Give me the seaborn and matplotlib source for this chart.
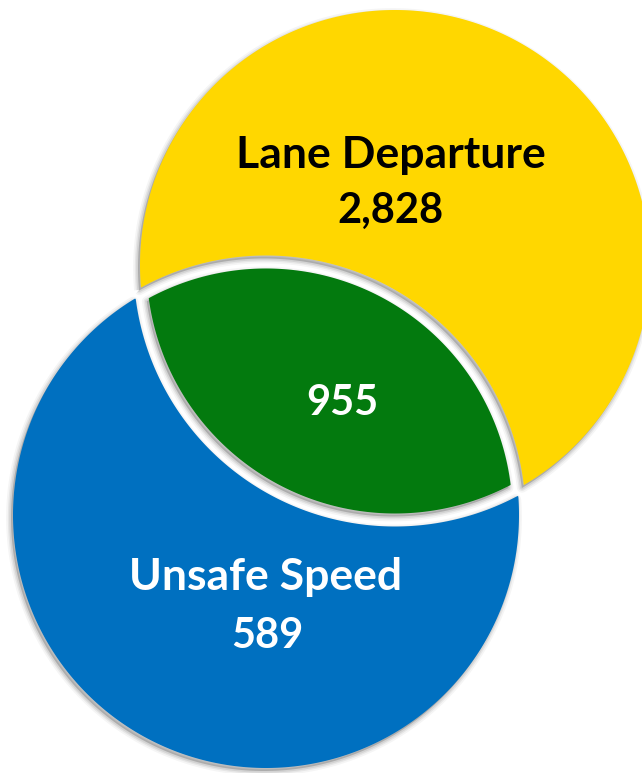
import numpy as np
import matplotlib
matplotlib.use("Agg")
import matplotlib.pyplot as plt
from matplotlib.patches import Polygon
import seaborn as sns

# ── Data ─────────────────────────────────────────────
set_names = ["Lane Departure", "Unsafe Speed"]
only_counts = [2828, 589]
overlap_count = 955

# ── Layout (pixel space of the 642x773 canvas) ───────
W, H = 642, 773
yellow_c, yellow_r = np.array([395.0, 265.0]), 255.0
blue_c, blue_r = np.array([266.0, 515.0]), 253.0
GAP = 6.5  # half width of the white seam around the overlap

colors = sns.color_palette(["#FFD700", "#0070C0", "#037A0E"])

sns.set_style("white")
plt.rcParams["font.family"] = ["Lato", "DejaVu Sans"]


def circle_pts(c, r, start, n=1440):
    ang = start + np.linspace(0, 2 * np.pi, n, endpoint=False)
    return np.column_stack([c[0] + r * np.cos(ang), c[1] + r * np.sin(ang)])


def arc_outside(cA, rA, cB, rB):
    """Points of circle A lying outside circle B (contiguous)."""
    d = cB - cA
    pts = circle_pts(cA, rA, np.arctan2(d[1], d[0]))
    return pts[np.hypot(*(pts - cB).T) > rB]


def arc_inside(cA, rA, cB, rB):
    """Points of circle A lying inside circle B (contiguous)."""
    d = cB - cA
    pts = circle_pts(cA, rA, np.arctan2(d[1], d[0]) + np.pi)
    return pts[np.hypot(*(pts - cB).T) < rB]


def join(a, b):
    if np.hypot(*(a[-1] - b[0])) > np.hypot(*(a[-1] - b[-1])):
        b = b[::-1]
    return np.vstack([a, b])


yellow_only = join(arc_outside(yellow_c, yellow_r, blue_c, blue_r + GAP),
                   arc_inside(blue_c, blue_r + GAP, yellow_c, yellow_r))
blue_only = join(arc_outside(blue_c, blue_r, yellow_c, yellow_r + GAP),
                 arc_inside(yellow_c, yellow_r + GAP, blue_c, blue_r))
lens = join(arc_inside(yellow_c, yellow_r - GAP, blue_c, blue_r - GAP),
            arc_inside(blue_c, blue_r - GAP, yellow_c, yellow_r - GAP))


def draw_region(ax, pts, color):
    # soft drop shadow, down and to the left
    sp = pts + np.array([-2.0, 3.0])
    for lw, a in [(7, 0.04), (4.5, 0.06), (2.5, 0.08)]:
        ax.add_patch(Polygon(sp, closed=True, facecolor="none",
                             edgecolor="black", linewidth=lw, alpha=a,
                             joinstyle="round"))
    ax.add_patch(Polygon(sp, closed=True, facecolor="black", alpha=0.18,
                         linewidth=0))
    ax.add_patch(Polygon(pts, closed=True, facecolor=color, linewidth=0))


fig = plt.figure(figsize=(W / 100, H / 100), dpi=100)
ax = fig.add_axes([0, 0, 1, 1])
ax.set_xlim(0, W)
ax.set_ylim(H, 0)
ax.axis("off")

draw_region(ax, yellow_only, colors[0])
draw_region(ax, blue_only, colors[1])
draw_region(ax, lens, colors[2])

name_kw = dict(ha="center", va="baseline", fontsize=32, fontweight="bold")
num_kw = dict(ha="center", va="baseline", fontsize=30, fontweight="bold")
ax.text(391, 168, set_names[0], color="black", **name_kw)
ax.text(390, 223, f"{only_counts[0]:,}", color="black", **num_kw)
ax.text(342, 415, f"{overlap_count:,}", color="white", **num_kw)
ax.text(266, 590, set_names[1], color="white", **name_kw)
ax.text(267, 648, f"{only_counts[1]:,}", color="white", **num_kw)

fig.savefig("out.png", dpi=100)
plt.close(fig)
